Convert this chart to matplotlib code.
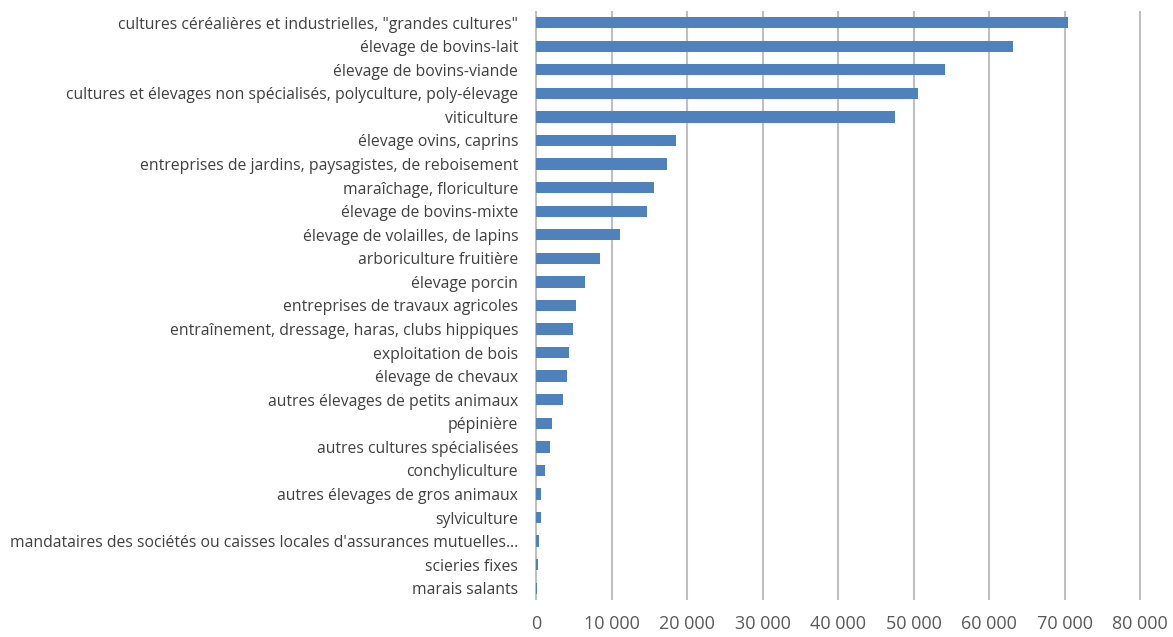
import matplotlib.pyplot as plt
from matplotlib.ticker import FuncFormatter

categories = [
    'cultures céréalières et industrielles, "grandes cultures"',
    "élevage de bovins-lait",
    "élevage de bovins-viande",
    "cultures et élevages non spécialisés, polyculture, poly-élevage",
    "viticulture",
    "élevage ovins, caprins",
    "entreprises de jardins, paysagistes, de reboisement",
    "maraîchage, floriculture",
    "élevage de bovins-mixte",
    "élevage de volailles, de lapins",
    "arboriculture fruitière",
    "élevage porcin",
    "entreprises de travaux agricoles",
    "entraînement, dressage, haras, clubs hippiques",
    "exploitation de bois",
    "élevage de chevaux",
    "autres élevages de petits animaux",
    "pépinière",
    "autres cultures spécialisées",
    "conchyliculture",
    "autres élevages de gros animaux",
    "sylviculture",
    "mandataires des sociétés ou caisses locales d'assurances mutuelles…",
    "scieries fixes",
    "marais salants",
]
values = [70480, 63100, 54200, 50580, 47500, 18470, 17370, 15670, 14730, 11160,
          8470, 6490, 5350, 4870, 4340, 4110, 3540, 2120, 1900, 1150,
          620, 600, 350, 220, 180]
xticks = list(range(0, 80001, 10000))

plt.rcParams['font.family'] = ['Open Sans', 'DejaVu Sans']

fig = plt.figure(figsize=(11.73, 6.37), dpi=100)
ax = fig.add_axes([0.456, 0.058, 0.517, 0.925])

pos = list(range(len(categories)))
ax.barh(pos, values, height=0.48, color="#4F81BD", zorder=3)
ax.set_ylim(len(categories) - 0.5, -0.5)
ax.set_xlim(-150, 80150)
ax.set_yticks(pos)
ax.set_yticklabels(categories, fontsize=11.3, color="#404040")
ax.set_xticks(xticks)
ax.xaxis.set_major_formatter(FuncFormatter(lambda v, p: f"{int(v):,}".replace(",", " ")))
ax.tick_params(axis="x", labelsize=13, colors="#595959", length=0, pad=11)
ax.tick_params(axis="y", length=0, pad=12)
ax.grid(axis="x", color="#BFBFBF", linewidth=1.5, zorder=0)
for s in ax.spines.values():
    s.set_visible(False)

fig.savefig("out.png", dpi=100)
